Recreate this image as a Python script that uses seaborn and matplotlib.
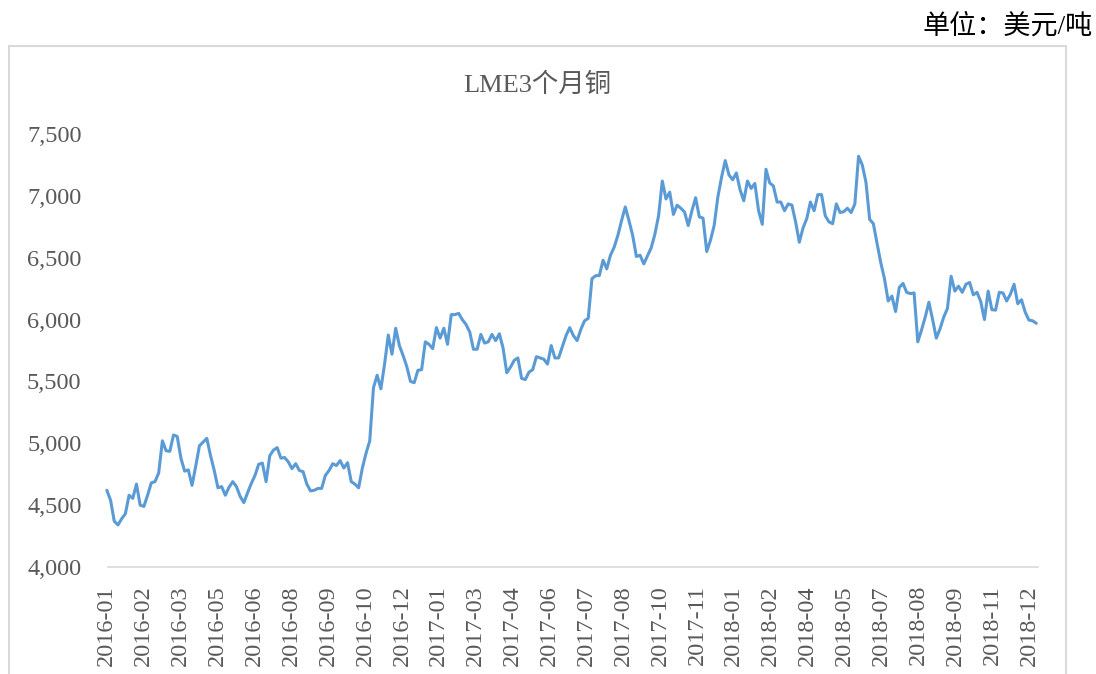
import numpy as np
import matplotlib
matplotlib.use("Agg")
import matplotlib.pyplot as plt
from matplotlib.patches import Rectangle
from matplotlib.ticker import FuncFormatter
import seaborn as sns

copper_price = [
    4620, 4540, 4370, 4340, 4390, 4430, 4580, 4555, 4670, 4500,
    4490, 4580, 4680, 4690, 4760, 5020, 4940, 4935, 5067, 5055,
    4880, 4775, 4785, 4660, 4815, 4980, 5010, 5040, 4900, 4780,
    4640, 4650, 4580, 4645, 4690, 4650, 4570, 4520, 4600, 4675,
    4740, 4830, 4840, 4690, 4900, 4945, 4965, 4880, 4885, 4850,
    4795, 4835, 4780, 4770, 4670, 4615, 4620, 4635, 4635, 4740,
    4780, 4835, 4820, 4860, 4800, 4843, 4690, 4670, 4640, 4800,
    4920, 5020, 5450, 5550, 5440, 5640, 5875, 5720, 5930, 5790,
    5710, 5620, 5500, 5490, 5590, 5595, 5820, 5800, 5765, 5935,
    5850, 5930, 5800, 6040, 6040, 6050, 6000, 5960, 5900, 5760,
    5760, 5880, 5810, 5820, 5880, 5830, 5885, 5770, 5570, 5615,
    5670, 5690, 5525, 5515, 5575, 5595, 5700, 5690, 5680, 5640,
    5790, 5690, 5690, 5780, 5870, 5935, 5870, 5830, 5920, 5990,
    6010, 6330, 6355, 6356, 6480, 6410, 6520, 6585, 6680, 6800,
    6910, 6800, 6680, 6510, 6520, 6450, 6515, 6580, 6690, 6840,
    7120, 6975, 7030, 6850, 6925, 6900, 6870, 6760, 6880, 6985,
    6830, 6820, 6550, 6640, 6760, 6990, 7150, 7285, 7170, 7130,
    7185, 7050, 6960, 7120, 7060, 7100, 6880, 6770, 7215, 7105,
    7080, 6950, 6950, 6880, 6935, 6925, 6790, 6625, 6740, 6815,
    6950, 6880, 7010, 7010, 6840, 6790, 6775, 6935, 6865, 6872,
    6900, 6865, 6935, 7320, 7250, 7110, 6810, 6775, 6615, 6460,
    6330, 6150, 6190, 6065, 6260, 6292, 6220, 6210, 6215, 5820,
    5915, 6020, 6140, 6000, 5850, 5925, 6020, 6090, 6350, 6230,
    6270, 6220, 6285, 6300, 6200, 6220, 6145, 6000, 6230, 6080,
    6076, 6220, 6215, 6150, 6205, 6285, 6128, 6160, 6060, 5996,
    5990, 5970,
]

tick_labels = [
    "2016-01", "2016-02", "2016-03", "2016-05", "2016-06", "2016-08",
    "2016-09", "2016-10", "2016-12", "2017-01", "2017-03", "2017-04",
    "2017-06", "2017-07", "2017-08", "2017-10", "2017-11", "2018-01",
    "2018-02", "2018-04", "2018-05", "2018-07", "2018-08", "2018-09",
    "2018-11", "2018-12",
]

y_ticks = [4000, 4500, 5000, 5500, 6000, 6500, 7000, 7500]

title = "LME3个月铜"
unit = "单位：美元/吨"

sns.set_theme(style="white")
plt.rcParams["font.family"] = ["Liberation Serif", "Noto Sans CJK SC", "DejaVu Sans"]

W, H = 1096, 674
fig = plt.figure(figsize=(W / 100, H / 100), dpi=100)
fig.patch.set_facecolor("white")

# axes box in pixels: x 105..1040, y 134..567
ax = fig.add_axes([105 / W, (H - 567) / H, 935 / W, 433 / H])

x = np.arange(len(copper_price))
sns.lineplot(x=x, y=copper_price, ax=ax, color="#5B9BD5", linewidth=2.2)

ax.set_xlim(-0.5, 252)
ax.set_ylim(4000, 7500)

ax.set_yticks(y_ticks)
ax.yaxis.set_major_formatter(FuncFormatter(lambda v, p: f"{v:,.0f}"))
ax.set_xticks(np.linspace(0, 249, len(tick_labels)))
ax.set_xticklabels(tick_labels, rotation=90, ha="center", va="top")

ax.tick_params(axis="y", length=0, pad=17, labelsize=17.5, labelcolor="#595959")
ax.tick_params(axis="x", length=0, pad=13, labelsize=17.5, labelcolor="#595959")

for side in ["top", "right", "left"]:
    ax.spines[side].set_visible(False)
ax.spines["bottom"].set_color("#d9d9d9")
ax.spines["bottom"].set_linewidth(1.2)
ax.spines["bottom"].set_bounds(0.3, 251.5)
ax.set_xlabel("")
ax.set_ylabel("")
ax.grid(False)

# chart area border (runs past the bottom of the image)
fig.add_artist(Rectangle((9 / W, -0.05), (1066 - 9) / W, (H - 46) / H + 0.05,
                         transform=fig.transFigure, fill=False,
                         edgecolor="#d9d9d9", linewidth=1.5))

fig.text(537 / W, (H - 85) / H, title, ha="center", va="center",
         fontsize=19, color="#595959")
fig.text(1093 / W, (H - 27) / H, unit, ha="right", va="center",
         fontsize=19.5, color="black")

fig.savefig("out.png", dpi=100)
